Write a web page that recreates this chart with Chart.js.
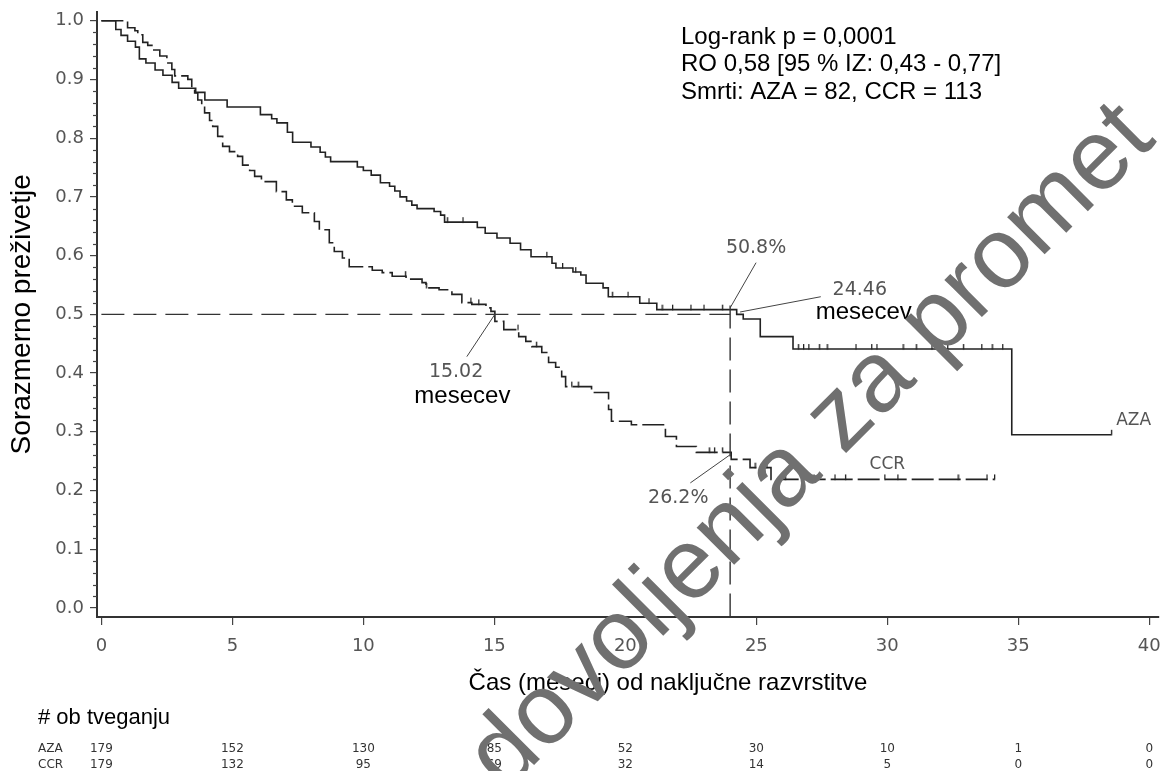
<!DOCTYPE html>
<html>
<head>
<meta charset="utf-8">
<script src="https://cdn.jsdelivr.net/npm/chart.js@4.4.0/dist/chart.umd.min.js"></script>
<style>
html, body { margin: 0; padding: 0; background: #fff; }
</style>
</head>
<body>
<canvas id="km" width="1164" height="771"></canvas>
<script>
// Kaplan-Meier steps (months, survival after the step)
const azaTime = [0, 0.55, 0.75, 1.0, 1.3, 1.45, 1.7, 2.05, 2.35, 2.7, 2.95, 3.6, 3.95, 4.8, 6.07, 6.5, 6.7, 7.1, 7.3, 8.0,
    8.35, 8.55, 8.75, 9.77, 10.0, 10.3, 10.65, 11.0, 11.2, 11.4, 11.65, 11.85, 12.05, 12.7, 12.95, 13.1, 14.35, 14.65, 15.1, 15.6,
    16.0, 16.4, 17.2, 17.35, 18.0, 18.3, 18.5, 19.15, 19.35, 20.55, 21.2, 24.25, 24.5, 25.15, 26.4, 34.75, 38.55];
const azaSurv = [1.0, 0.985, 0.975, 0.965, 0.955, 0.935, 0.928, 0.916, 0.907, 0.895, 0.885, 0.878, 0.865, 0.853, 0.84, 0.833, 0.826, 0.81, 0.793, 0.785,
    0.776, 0.768, 0.76, 0.751, 0.745, 0.737, 0.724, 0.718, 0.71, 0.70, 0.693, 0.686, 0.68, 0.675, 0.669, 0.657, 0.648, 0.638, 0.63, 0.621,
    0.61, 0.598, 0.587, 0.579, 0.572, 0.567, 0.553, 0.545, 0.53, 0.519, 0.508, 0.5, 0.492, 0.462, 0.441, 0.295, 0.295];

const ccrTime = [0, 1.0, 1.28, 1.39, 1.58, 1.77, 1.96, 2.23, 2.5, 2.69, 2.8, 3.3, 3.45, 3.56, 3.68, 3.83, 3.94, 4.13, 4.25, 4.44,
    4.63, 4.89, 5.2, 5.39, 5.66, 5.85, 6.11, 6.68, 7.06, 7.29, 7.67, 8.13, 8.32, 8.7, 8.89, 9.2, 9.46, 10.34, 10.72, 11.1,
    11.63, 12.24, 12.39, 12.89, 13.38, 13.76, 14.14, 14.68, 14.87, 15.02, 15.36, 15.93, 16.2, 16.43, 16.81, 17.07, 17.34, 17.57, 17.72, 18.71,
    19.36, 19.47, 20.23, 21.53, 21.95, 22.71, 24.04, 24.76, 25.56, 34.09];
const ccrSurv = [1.0, 0.988, 0.983, 0.976, 0.963, 0.958, 0.95, 0.94, 0.928, 0.917, 0.906, 0.9, 0.886, 0.877, 0.865, 0.855, 0.843, 0.83, 0.82, 0.803,
    0.786, 0.777, 0.769, 0.754, 0.745, 0.735, 0.726, 0.709, 0.695, 0.684, 0.673, 0.658, 0.644, 0.622, 0.607, 0.596, 0.581, 0.575, 0.571, 0.565,
    0.56, 0.554, 0.545, 0.542, 0.534, 0.52, 0.517, 0.511, 0.505, 0.488, 0.474, 0.462, 0.454, 0.445, 0.435, 0.418, 0.41, 0.394, 0.377, 0.367,
    0.338, 0.318, 0.312, 0.292, 0.275, 0.265, 0.253, 0.239, 0.219, 0.219];

// censored observations (months)
const azaCensor = [13.2, 13.8, 17.0, 17.6, 18.1, 19.5, 20.1, 20.9, 21.4, 21.8, 22.5, 23.0, 23.7, 26.6, 26.8, 27.0, 27.4, 27.7,
    28.8, 29.4, 29.6, 30.6, 31.1, 31.7, 32.3, 32.9, 33.6, 34.0, 34.4, 38.55];
const ccrCensor = [11.6, 12.4, 14.1, 14.4, 15.9, 16.6, 17.95, 18.2, 23.2, 23.4, 23.7, 24.95, 25.4, 26.1, 27.2, 28.0, 28.4,
    29.9, 30.4, 32.7, 33.8, 34.09];

const xTicks = [0, 5, 10, 15, 20, 25, 30, 35, 40];
const yTicks = [0, 0.1, 0.2, 0.3, 0.4, 0.5, 0.6, 0.7, 0.8, 0.9, 1.0];

// number at risk
const riskTimes = [0, 5, 10, 15, 20, 25, 30, 35, 40];
const azaRisk = [179, 152, 130, 85, 52, 30, 10, 1, 0];
const ccrRisk = [179, 132, 95, 69, 32, 14, 5, 0, 0];

const statLines = ['Log-rank p = 0,0001', 'RO 0,58 [95 % IZ: 0,43 - 0,77]', 'Smrti: AZA = 82, CCR = 113'];

const medianCcr = 15.02;
const medianAza = 24.46;
const cutTime = 24.0;

const sans = '"Liberation Sans", Arial, sans-serif';
const plain = '"DejaVu Sans", sans-serif';

function survAt(times, surv, t) {
    let v = surv[0];
    for (let i = 0; i < times.length; i++) {
        if (times[i] <= t) v = surv[i];
    }
    return v;
}

function toPoints(times, surv) {
    return times.map((t, i) => ({ x: t, y: surv[i] }));
}

function censorPoints(cens, times, surv) {
    return cens.map(t => ({ x: t, y: survAt(times, surv, t) }));
}

// small upward tick used as the censor marker
function censorMark() {
    let c = document.createElement('canvas');
    c.width = 3;
    c.height = 12;
    let g = c.getContext('2d');
    g.fillStyle = '#222';
    g.fillRect(1, 1, 1.3, 5.5);
    return c;
}

const extras = {
    id: 'extras',
    afterDraw(chart) {
        const ctx = chart.ctx;
        const xs = chart.scales.x;
        const ys = chart.scales.y;
        const X = v => xs.getPixelForValue(v);
        const Y = v => ys.getPixelForValue(v);
        const area = chart.chartArea;

        ctx.save();

        // minor ticks on the y axis
        ctx.strokeStyle = '#444';
        ctx.lineWidth = 1.2;
        for (let k = 0; k <= 50; k++) {
            if (k % 5 === 0) continue;
            const py = Math.round(Y(k * 0.02)) + 0.5;
            ctx.beginPath();
            ctx.moveTo(area.left - 4, py);
            ctx.lineTo(area.left, py);
            ctx.stroke();
        }

        // median reference lines
        ctx.setLineDash([23, 9]);
        ctx.lineWidth = 1.4;
        ctx.strokeStyle = '#333';
        ctx.beginPath();
        ctx.moveTo(X(0), Y(0.5));
        ctx.lineTo(X(cutTime), Y(0.5));
        ctx.stroke();
        ctx.beginPath();
        ctx.moveTo(X(cutTime), Y(0.515));
        ctx.lineTo(X(cutTime), area.bottom);
        ctx.stroke();
        ctx.setLineDash([]);

        // leader lines
        ctx.lineWidth = 1;
        ctx.strokeStyle = '#444';
        const leaders = [
            [medianCcr, 0.5, 13.95, 0.428],
            [cutTime, 0.511, 24.99, 0.588],
            [24.38, 0.504, 27.46, 0.53],
            [cutTime, 0.261, 22.48, 0.213]
        ];
        leaders.forEach(l => {
            ctx.beginPath();
            ctx.moveTo(X(l[0]), Y(l[1]));
            ctx.lineTo(X(l[2]), Y(l[3]));
            ctx.stroke();
        });

        // grey annotation labels
        ctx.fillStyle = '#555';
        ctx.font = '19px ' + plain;
        ctx.textAlign = 'center';
        ctx.textBaseline = 'middle';
        ctx.fillText(medianCcr.toFixed(2), X(13.54), Y(0.402));
        ctx.fillText(medianAza.toFixed(2), X(28.95), Y(0.542));
        ctx.fillText('50.8%', X(24.99), Y(0.613));
        ctx.fillText('26.2%', X(22.02), Y(0.188));
        ctx.font = '17px ' + plain;
        ctx.fillText('CCR', X(30.0), Y(0.244));
        ctx.fillText('AZA', X(39.4), Y(0.319));

        ctx.fillStyle = '#000';
        ctx.font = '24px ' + sans;
        ctx.fillText('mesecev', X(13.78), Y(0.36));
        ctx.fillText('mesecev', X(29.1), Y(0.503));

        // statistics box
        ctx.textAlign = 'left';
        statLines.forEach((s, i) => ctx.fillText(s, 681, 37 + i * 27.5));

        // axis titles
        ctx.textAlign = 'center';
        ctx.fillText('Čas (meseci) od naključne razvrstitve', 668, 683);
        ctx.save();
        ctx.translate(22, Y(0.5));
        ctx.rotate(-Math.PI / 2);
        ctx.font = '28px ' + sans;
        ctx.fillText('Sorazmerno preživetje', 0, 0);
        ctx.restore();

        // number at risk table
        ctx.textAlign = 'left';
        ctx.font = '22px ' + sans;
        ctx.fillText('# ob tveganju', 38, 718);
        ctx.font = '12px ' + plain;
        ctx.fillStyle = '#333';
        ctx.fillText('AZA', 38, 749);
        ctx.fillText('CCR', 38, 765);
        ctx.textAlign = 'center';
        riskTimes.forEach((t, i) => {
            ctx.fillText(String(azaRisk[i]), X(t), 749);
            ctx.fillText(String(ccrRisk[i]), X(t), 765);
        });

        // watermark
        ctx.save();
        ctx.translate(812, 448);
        ctx.rotate(-Math.PI / 4);
        ctx.font = '100px ' + sans;
        ctx.fillStyle = '#707070';
        ctx.textAlign = 'center';
        ctx.textBaseline = 'middle';
        ctx.fillText('dovoljenja za promet', 0, 0);
        ctx.restore();

        ctx.restore();
    }
};

let kmChart;

function setupChart() {
    if (kmChart) {
        kmChart.destroy();
    }

    let ctx = document.getElementById('km').getContext('2d');
    let mark = censorMark();

    kmChart = new Chart(ctx, {
        type: 'line',
        data: {
            datasets: [{
                label: 'AZA',
                data: toPoints(azaTime, azaSurv),
                stepped: 'before',
                borderColor: '#222',
                borderWidth: 1.6,
                pointRadius: 0,
                fill: false
            }, {
                label: 'CCR',
                data: toPoints(ccrTime, ccrSurv),
                stepped: 'before',
                borderColor: '#222',
                borderWidth: 1.6,
                borderDash: [22, 5],
                pointRadius: 0,
                fill: false
            }, {
                label: 'AZA cens',
                data: censorPoints(azaCensor, azaTime, azaSurv),
                showLine: false,
                pointStyle: mark,
                pointRadius: 3
            }, {
                label: 'CCR cens',
                data: censorPoints(ccrCensor, ccrTime, ccrSurv),
                showLine: false,
                pointStyle: mark,
                pointRadius: 3
            }]
        },
        options: {
            responsive: false,
            animation: false,
            devicePixelRatio: 1,
            layout: { padding: { left: 0, top: 12, right: 3, bottom: 114 } },
            plugins: {
                legend: { display: false },
                tooltip: { enabled: false }
            },
            scales: {
                x: {
                    type: 'linear',
                    min: -0.167,
                    max: 40.37,
                    afterBuildTicks: s => { s.ticks = xTicks.map(v => ({ value: v })); },
                    afterFit: s => {
                        s.height = 40;
                        s.paddingLeft = 0;
                        s.paddingRight = 0;
                    },
                    grid: { drawOnChartArea: false, tickLength: 8, color: '#444', lineWidth: 1.2 },
                    border: { color: '#333', width: 2 },
                    ticks: {
                        color: '#555',
                        font: { family: 'DejaVu Sans', size: 18 },
                        padding: 11,
                        maxRotation: 0,
                        callback: v => String(v)
                    }
                },
                y: {
                    min: -0.0153,
                    max: 1.0148,
                    afterBuildTicks: s => { s.ticks = yTicks.map(v => ({ value: v })); },
                    afterFit: s => {
                        s.width = 97;
                        s.paddingTop = 0;
                        s.paddingBottom = 0;
                    },
                    grid: { drawOnChartArea: false, tickLength: 7, color: '#444', lineWidth: 1.2 },
                    border: { color: '#333', width: 2 },
                    ticks: {
                        color: '#555',
                        font: { family: 'DejaVu Sans', size: 18 },
                        padding: 6,
                        callback: v => v.toFixed(1)
                    }
                }
            }
        },
        plugins: [extras]
    });
}

setupChart();
</script>
</body>
</html>
